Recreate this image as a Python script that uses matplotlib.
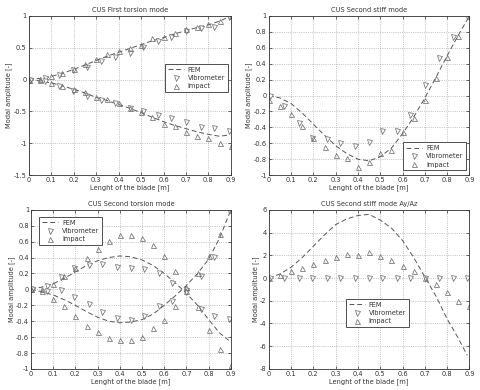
import matplotlib
matplotlib.use("Agg")
import matplotlib.pyplot as plt

plt.rcParams['font.family'] = ['DejaVu Sans']

# ---- shared x positions ----
x_imp = [0.0, 0.05, 0.1, 0.15, 0.2, 0.25, 0.3, 0.35, 0.4, 0.45, 0.5, 0.55, 0.6,
         0.65, 0.7, 0.75, 0.8, 0.85, 0.9]
x_vib = [0.005, 0.07, 0.135, 0.195, 0.26, 0.32, 0.385, 0.45, 0.51, 0.575, 0.635,
         0.70, 0.765, 0.825, 0.89]
x_fem = [0.0, 0.05, 0.1, 0.15, 0.2, 0.25, 0.3, 0.35, 0.4, 0.45, 0.5, 0.55, 0.6,
         0.65, 0.7, 0.75, 0.8, 0.85, 0.89]
x_fem_full = [0.0, 0.05, 0.1, 0.15, 0.2, 0.25, 0.3, 0.35, 0.4, 0.45, 0.5, 0.55, 0.6,
              0.65, 0.7, 0.75, 0.8, 0.85, 0.9]

# ---- panel 1: first torsion mode ----
t1_fem_up = [0.0, 0.02, 0.05, 0.1, 0.16, 0.23, 0.3, 0.37, 0.43, 0.49, 0.55, 0.61, 0.66,
             0.72, 0.77, 0.82, 0.86, 0.92, 1.0]
t1_fem_lo = [0.0, -0.02, -0.05, -0.1, -0.15, -0.21, -0.28, -0.33, -0.39, -0.45, -0.52,
             -0.59, -0.66, -0.72, -0.77, -0.82, -0.86, -0.89, -0.87]
t1_vib_up = [0.0, 0.02, 0.07, 0.15, 0.2, 0.3, 0.35, 0.42, 0.52, 0.6, 0.67, 0.77, 0.81,
             0.83, 0.99]
t1_vib_lo = [0.0, -0.02, -0.1, -0.18, -0.25, -0.32, -0.37, -0.45, -0.5, -0.55, -0.61,
             -0.67, -0.74, -0.76, -0.8]
t1_imp_up = [0.0, 0.01, 0.05, 0.1, 0.17, 0.25, 0.32, 0.4, 0.45, 0.5, 0.55, 0.65, 0.67,
             0.73, 0.79, 0.83, 0.87, 0.92, 1.0]
t1_imp_lo = [0.0, 0.0, -0.05, -0.1, -0.15, -0.2, -0.28, -0.31, -0.36, -0.45, -0.51,
             -0.58, -0.69, -0.73, -0.83, -0.88, -0.92, -1.0, -1.04]

# ---- panel 2: second stiff mode ----
s2_fem = [0.0, -0.03, -0.1, -0.22, -0.36, -0.5, -0.63, -0.73, -0.8, -0.82, -0.77,
          -0.66, -0.48, -0.27, -0.03, 0.23, 0.5, 0.76, 1.0]
s2_vib = [0.0, -0.13, -0.35, -0.53, -0.55, -0.6, -0.63, -0.59, -0.45, -0.45, -0.25,
          0.13, 0.47, 0.74, 1.0]
s2_imp = [-0.06, -0.13, -0.23, -0.38, -0.53, -0.65, -0.75, -0.78, -0.9, -0.84, -0.72,
          -0.68, -0.46, -0.28, -0.05, 0.22, 0.49, 0.75, 1.0]

# ---- panel 3: second torsion mode ----
t2_fem_a = [0.0, 0.03, 0.07, 0.14, 0.22, 0.3, 0.36, 0.4, 0.42, 0.41, 0.37, 0.3, 0.2,
            0.08, -0.05, -0.2, -0.38, -0.55, -0.64]
t2_fem_b = [0.0, -0.03, -0.07, -0.13, -0.2, -0.28, -0.35, -0.4, -0.42, -0.41, -0.38,
            -0.31, -0.2, -0.08, 0.05, 0.2, 0.38, 0.65, 1.0]
t2_vib_a = [0.0, 0.04, 0.16, 0.27, 0.31, 0.32, 0.28, 0.27, 0.25, 0.21, 0.08, -0.01,
            -0.25, -0.33, -0.37]
t2_vib_b = [0.0, -0.02, -0.01, -0.09, -0.18, -0.28, -0.36, -0.38, -0.34, -0.21, -0.15,
            -0.03, 0.17, 0.41, 1.0]
t2_imp_a = [0.0, 0.0, 0.07, 0.17, 0.27, 0.4, 0.51, 0.61, 0.68, 0.68, 0.64, 0.56, 0.42,
            0.23, 0.03, -0.22, -0.51, -0.75, -0.95]
t2_imp_b = [0.0, -0.02, -0.12, -0.21, -0.34, -0.46, -0.54, -0.61, -0.64, -0.64, -0.6,
            -0.49, -0.38, -0.21, -0.02, 0.2, 0.42, 0.7, 1.0]

# ---- panel 4: second stiff mode Ay/Az ----
s4_fem = [0.0, 0.35, 0.95, 1.8, 2.8, 3.8, 4.7, 5.2, 5.5, 5.6, 5.1, 4.4, 3.3, 1.8, 0.1,
          -1.6, -3.6, -5.3, -6.8]
s4_vib = [0.0] * 15
s4_imp = [0.0, 0.3, 0.6, 0.9, 1.2, 1.6, 1.85, 2.15, 2.0, 2.25, 1.9, 1.55, 1.1, 0.6,
          0.0, -0.5, -1.2, -2.0, -2.45]

titles = ["CUS First torsion mode", "CUS Second stiff mode",
          "CUS Second torsion mode", "CUS Second stiff mode Ay/Az"]
xlabel = "Lenght of the blade [m]"
ylabel = "Modal amplitude [-]"
legend_labels = ["FEM", "Vibrometer", "Impact"]
xticks = [0, 0.1, 0.2, 0.3, 0.4, 0.5, 0.6, 0.7, 0.8, 0.9]
xticklabels = ["0", "0.1", "0.2", "0.3", "0.4", "0.5", "0.6", "0.7", "0.8", "0.9"]
yticks1 = [-1.5, -1, -0.5, 0, 0.5, 1]
yticklabels1 = ["-1.5", "-1", "-0.5", "0", "0.5", "1"]
yticks2 = [-1, -0.8, -0.6, -0.4, -0.2, 0, 0.2, 0.4, 0.6, 0.8, 1]
yticklabels2 = ["-1", "-0.8", "-0.6", "-0.4", "-0.2", "0", "0.2", "0.4", "0.6", "0.8", "1"]
yticks4 = [-8, -6, -4, -2, 0, 2, 4, 6]
yticklabels4 = ["-8", "-6", "-4", "-2", "0", "2", "4", "6"]

FS = 4.8
LC = '#555555'
MC = '#707070'

fig = plt.figure(figsize=(4.8, 3.9), dpi=100)
pos = [[0.060, 0.551, 0.421, 0.408],
       [0.560, 0.551, 0.418, 0.408],
       [0.0646, 0.054, 0.4164, 0.408],
       [0.560, 0.054, 0.418, 0.408]]
axes = [fig.add_axes(p) for p in pos]


def fem(ax, x, y):
    return ax.plot(x, y, linestyle=(0, (5, 3)), color=LC, lw=0.7)[0]


def vib(ax, x, y):
    return ax.plot(x, y, linestyle='none', marker='v', ms=3.6, mfc='white',
                   mec=MC, mew=0.55)[0]


def imp(ax, x, y):
    return ax.plot(x, y, linestyle='none', marker='^', ms=3.6, mfc='none',
                   mec=MC, mew=0.55)[0]


def style(ax, title, yt, ytl, ylim):
    ax.set_xlim(0, 0.9)
    ax.set_ylim(*ylim)
    ax.set_xticks(xticks)
    ax.set_xticklabels(xticklabels)
    ax.set_yticks(yt)
    ax.set_yticklabels(ytl)
    ax.tick_params(direction='in', length=2, width=0.5, labelsize=FS, pad=1.5,
                   top=True, right=True, colors='#333333')
    ax.grid(True, linestyle=':', color='#999999', lw=0.5)
    ax.set_title(title, fontsize=FS, pad=3, color='#333333')
    ax.set_xlabel(xlabel, fontsize=FS, labelpad=1, color='#333333')
    ax.set_ylabel(ylabel, fontsize=FS, labelpad=1, color='#333333')
    for s in ax.spines.values():
        s.set_linewidth(0.6)
        s.set_color('#333333')


def leg(ax, handles, **kw):
    l = ax.legend(handles, legend_labels, fontsize=FS, frameon=True, fancybox=False,
                  edgecolor='#333333', framealpha=1, handlelength=2.4,
                  borderpad=0.4, labelspacing=0.35, handletextpad=0.6, **kw)
    l.get_frame().set_linewidth(0.6)
    for t in l.get_texts():
        t.set_color('#333333')


# panel 1
ax = axes[0]
h1 = fem(ax, x_fem_full, t1_fem_up)
fem(ax, x_fem, t1_fem_lo)
h2 = vib(ax, x_vib, t1_vib_up)
vib(ax, x_vib, t1_vib_lo)
h3 = imp(ax, x_imp, t1_imp_up)
imp(ax, x_imp, t1_imp_lo)
style(ax, titles[0], yticks1, yticklabels1, (-1.5, 1))
leg(ax, [h1, h2, h3], loc='upper right', bbox_to_anchor=(1.0, 0.72))

# panel 2
ax = axes[1]
h1 = fem(ax, x_fem_full, s2_fem)
h2 = vib(ax, x_vib, s2_vib)
h3 = imp(ax, x_imp, s2_imp)
style(ax, titles[1], yticks2, yticklabels2, (-1, 1))
leg(ax, [h1, h2, h3], loc='lower right', bbox_to_anchor=(1.0, 0.01))

# panel 3
ax = axes[2]
h1 = fem(ax, x_fem, t2_fem_a)
fem(ax, x_fem_full, t2_fem_b)
h2 = vib(ax, x_vib, t2_vib_a)
vib(ax, x_vib, t2_vib_b)
h3 = imp(ax, x_imp, t2_imp_a)
imp(ax, x_imp, t2_imp_b)
style(ax, titles[2], yticks2, yticklabels2, (-1, 1))
leg(ax, [h1, h2, h3], loc='upper left', bbox_to_anchor=(0.025, 0.975))

# panel 4
ax = axes[3]
h1 = fem(ax, x_fem, s4_fem)
h2 = vib(ax, x_vib, s4_vib)
h3 = imp(ax, x_imp, s4_imp)
style(ax, titles[3], yticks4, yticklabels4, (-8, 6))
leg(ax, [h1, h2, h3], loc='upper left', bbox_to_anchor=(0.368, 0.46))

fig.savefig("out.png", dpi=100, facecolor='white')
